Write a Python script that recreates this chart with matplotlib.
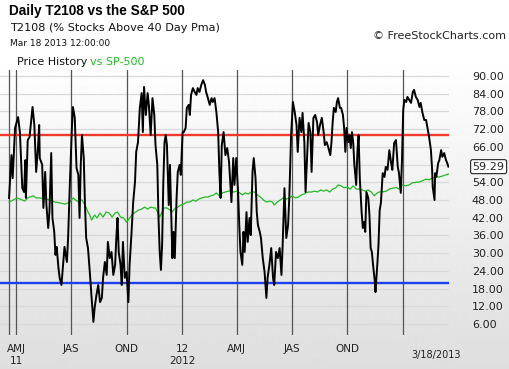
import numpy as np
import matplotlib
matplotlib.use("Agg")
import matplotlib.pyplot as plt
import matplotlib.transforms as mtransforms

# --- data ----------------------------------------------------------------
start_date = np.datetime64("2011-03-20")
end_date = np.datetime64("2013-03-18")

# T2108: days since start_date, value
t2108_days = [0, 4, 6, 10, 15, 18, 22, 25, 27, 28, 31, 34, 36, 39, 42, 45, 48, 50, 51, 55,
              57, 60, 62, 65, 67, 70, 72, 75, 77, 79, 82, 84, 87, 90, 92, 96, 98, 101, 104, 106,
              109, 112, 115, 117, 119, 121, 124, 126, 128, 131, 134, 137, 140, 142, 145, 148, 151, 154, 156, 159,
              162, 164, 167, 170, 173, 176, 178, 180, 182, 185, 187, 189, 192, 195, 198, 200, 203, 206, 209, 211,
              214, 217, 220, 222, 224, 227, 230, 232, 235, 238, 241, 243, 246, 248, 250, 252, 254, 256, 258, 260,
              262, 265, 267, 269, 271, 273, 275, 278, 280, 283, 285, 288, 290, 293, 295, 298, 300, 302, 305, 308,
              311, 313, 316, 319, 322, 325, 327, 330, 333, 336, 338, 341, 344, 347, 349, 351, 353, 356, 359, 362,
              365, 369, 372, 374, 377, 380, 382, 384, 387, 389, 391, 394, 396, 399, 401, 404, 406, 409, 411, 413,
              416, 418, 421, 424, 427, 429, 432, 435, 438, 440, 443, 446, 449, 452, 454, 457, 460, 463, 465, 468,
              471, 474, 477, 479, 482, 485, 487, 490, 492, 495, 497, 500, 502, 505, 508, 511, 513, 516, 519, 522,
              524, 527, 530, 533, 535, 537, 539, 542, 544, 546, 549, 551, 554, 556, 558, 560, 563, 565, 567, 569,
              571, 573, 576, 578, 580, 582, 585, 587, 589, 591, 593, 596, 598, 600, 602, 604, 607, 608, 611, 613,
              615, 617, 620, 623, 625, 628, 631, 634, 636, 639, 642, 645, 647, 650, 652, 654, 656, 659, 661, 664,
              667, 670, 672, 675, 678, 681, 683, 686, 689, 692, 694, 697, 700, 702, 703, 706, 707, 709, 712, 714,
              717, 719, 722, 725, 727, 729]
t2108_vals = [48.7, 63.2, 55.4, 72.4, 76.1, 71.0, 52.0, 50.7, 61.5, 48.7, 68.3, 69.3, 73.4, 79.5, 73.4, 57.5, 65.6, 73.4, 62.2, 59.9,
              45.3, 57.5, 46.3, 38.5, 43.9, 63.9, 41.9, 37.2, 29.4, 32.1, 25.0, 21.6, 19.2, 27.0, 32.1, 27.0, 35.1, 54.1, 71.0, 79.5,
              76.0, 58.8, 56.5, 41.9, 59.9, 70.0, 62.2, 46.3, 35.1, 31.7, 23.6, 14.8, 6.7, 11.4, 15.8, 19.2, 13.4, 14.8, 21.6, 27.0,
              22.6, 33.8, 28.3, 30.4, 22.6, 26.0, 35.1, 41.9, 30.4, 26.0, 19.2, 33.8, 21.6, 23.6, 13.4, 26.0, 36.1, 47.3, 54.1, 64.3,
              67.6, 79.2, 84.2, 71.0, 86.3, 76.8, 84.2, 80.2, 70.0, 82.5, 76.8, 66.6, 59.9, 41.9, 30.4, 24.3, 32.8, 54.1, 67.6, 70.0,
              66.6, 46.3, 59.9, 43.9, 28.3, 37.2, 28.3, 48.7, 57.5, 59.9, 56.5, 71.0, 71.0, 72.4, 79.2, 80.2, 76.8, 83.6, 85.9, 84.6,
              83.6, 85.9, 84.6, 87.0, 88.6, 87.0, 84.6, 82.5, 80.2, 82.5, 81.2, 82.5, 77.8, 71.0, 57.5, 48.7, 66.6, 71.0, 63.2, 65.6,
              61.0, 47.3, 62.2, 53.1, 62.2, 50.7, 39.5, 30.4, 26.0, 37.2, 30.4, 43.9, 33.8, 41.9, 36.1, 57.5, 62.2, 55.4, 43.9, 39.5,
              37.2, 35.1, 28.3, 23.6, 14.8, 21.6, 26.0, 31.7, 21.6, 19.2, 30.4, 28.3, 31.7, 22.6, 32.8, 52.0, 35.1, 39.5, 48.7, 70.0,
              81.2, 77.8, 73.4, 64.3, 75.8, 71.0, 77.5, 67.6, 50.7, 64.3, 74.1, 71.0, 57.5, 75.8, 76.8, 74.4, 70.0, 73.4, 75.8, 71.0,
              66.6, 67.6, 65.6, 63.2, 67.6, 74.4, 79.2, 77.8, 81.2, 82.5, 79.2, 79.2, 76.8, 72.4, 64.3, 72.4, 67.6, 70.0, 65.6, 71.0,
              67.6, 59.9, 53.1, 64.3, 70.0, 55.4, 43.9, 38.5, 40.5, 37.2, 50.7, 48.7, 42.9, 31.7, 30.4, 26.0, 20.2, 16.8, 26.0, 32.8,
              44.6, 47.0, 57.1, 55.8, 59.2, 58.2, 64.9, 60.5, 58.2, 67.3, 68.3, 59.2, 57.1, 50.4, 61.5, 78.5, 81.9, 81.2, 82.9, 81.9,
              80.9, 84.6, 85.3, 82.9, 81.9, 79.5, 80.9, 77.5, 75.1, 75.1, 72.7, 69.3, 64.9, 58.2, 52.4, 48.0, 57.1, 55.8, 60.5, 61.5,
              64.9, 62.6, 63.9, 61.5, 60.5, 59.29]

# SP-500 overlay, shown on the same scale as drawn in the chart
spx_days = [0, 7, 13, 22, 26, 31, 40, 45, 51, 60, 68, 76, 84, 93, 101, 106, 113, 121, 126, 131,
            134, 137, 142, 146, 151, 156, 161, 166, 171, 176, 180, 185, 190, 195, 200, 205, 210, 215, 220, 225,
            230, 235, 240, 243, 247, 250, 253, 257, 262, 267, 270, 275, 280, 285, 290, 295, 300, 305, 310, 315,
            320, 325, 330, 335, 340, 344, 349, 354, 359, 364, 367, 373, 378, 383, 387, 392, 397, 402, 407, 412,
            417, 422, 427, 432, 437, 440, 445, 450, 455, 460, 465, 470, 475, 480, 485, 490, 492, 497, 502, 507,
            512, 517, 522, 527, 532, 537, 542, 546, 551, 556, 561, 566, 571, 576, 581, 586, 591, 596, 601, 606,
            611, 614, 619, 626, 631, 636, 643, 647, 652, 659, 664, 669, 676, 681, 686, 692, 697, 702, 709, 714,
            719, 725, 729]
spx_vals = [47.3, 48.0, 48.7, 48.0, 47.6, 48.7, 49.4, 48.7, 48.7, 48.3, 48.0, 47.3, 47.0, 46.6, 47.3, 48.7, 47.6, 48.0, 46.3, 43.9,
            42.9, 41.2, 42.9, 41.9, 43.6, 42.2, 43.9, 43.6, 42.2, 43.6, 43.9, 42.2, 41.9, 40.5, 41.9, 43.2, 43.9, 44.6, 44.9, 45.6,
            44.9, 45.6, 45.3, 45.3, 43.6, 42.2, 43.6, 45.3, 45.3, 44.6, 43.9, 45.0, 45.6, 46.3, 46.6, 47.3, 47.3, 48.0, 47.6, 48.3,
            48.7, 49.0, 49.0, 49.4, 49.7, 50.4, 49.4, 50.4, 50.7, 51.0, 51.0, 50.7, 51.0, 50.4, 49.7, 50.4, 50.0, 50.7, 50.7, 49.7,
            49.0, 48.0, 47.3, 47.6, 47.3, 46.3, 47.3, 48.0, 48.7, 48.3, 48.7, 49.4, 48.7, 49.0, 49.7, 50.0, 50.4, 50.7, 50.7, 51.0,
            50.7, 51.4, 51.0, 51.4, 50.7, 51.7, 52.1, 53.1, 52.8, 52.1, 52.4, 51.7, 52.8, 51.7, 51.7, 51.4, 51.0, 51.4, 50.7, 49.4,
            50.4, 50.7, 50.7, 51.0, 51.7, 52.0, 52.2, 51.7, 53.1, 52.8, 53.1, 53.8, 54.0, 54.1, 54.5, 55.1, 54.8, 55.4, 55.8, 55.8,
            56.1, 56.5, 56.8]

upper_level = 70
lower_level = 20
y_ticks = [6, 12, 18, 24, 30, 36, 42, 48, 54, 66, 72, 78, 84, 90]
quarter_starts = ["2011-04-01", "2011-07-01", "2011-10-01", "2012-01-01",
                  "2012-04-01", "2012-07-01", "2012-10-01", "2013-01-01"]
quarter_labels = ["AMJ\n11", "JAS", "OND", "12\n2012", "AMJ", "JAS", "OND", ""]

# --- figure -------------------------------------------------------------
W, H = 509, 369
fig = plt.figure(figsize=(W / 100, H / 100), dpi=100)
fig.patch.set_facecolor("white")

# soft vertical gradient behind everything
bg = fig.add_axes([0, 0, 1, 1], zorder=-10)
bg.axis("off")
rows = np.arange(H)
shade = np.where(rows < 58, 1.0, 1.0 - 0.13 * (rows - 58) / (H - 58))
bg.imshow(shade[:, None], cmap="gray", vmin=0, vmax=1, aspect="auto",
          extent=[0, 1, 0, 1], interpolation="bilinear")

ax = fig.add_axes([0, 1 - 335 / H, 449 / W, (335 - 70) / H])
ax.patch.set_alpha(0)
for s in ax.spines.values():
    s.set_visible(False)

t_dates = start_date + np.array(t2108_days).astype("timedelta64[D]")
s_dates = start_date + np.array(spx_days).astype("timedelta64[D]")

for v in y_ticks + [60]:
    ax.axhline(v, color="#d9d9d9", lw=0.9, zorder=1)
for q in [start_date] + [np.datetime64(d) for d in quarter_starts]:
    ax.axvline(q, color="#555555", lw=0.9, zorder=2)

ax.axhline(upper_level, color="#f23a2c", lw=1.7, zorder=3)
ax.axhline(lower_level, color="#1e3ff0", lw=1.7, zorder=3)
ax.plot(s_dates, spx_vals, color="#22bb22", lw=0.9, zorder=4)
ax.plot(t_dates, t2108_vals, color="black", lw=1.4, zorder=5)

ax.set_xlim(start_date - np.timedelta64(15, "D"), end_date + np.timedelta64(1, "D"))
ax.set_ylim(2.26, 92.03)

ax.yaxis.tick_right()
ax.set_yticks(y_ticks)
ax.set_yticklabels([f"{v:.2f}" for v in y_ticks], fontsize=8, color="#222222")
ax.tick_params(axis="y", length=0, pad=16.5)
ax.set_xticks([np.datetime64(d) for d in quarter_starts])
ax.set_xticklabels(quarter_labels, fontsize=7.5, color="#222222", linespacing=1.3)
ax.tick_params(axis="x", length=0, pad=6.5)

# last-value box
trans = mtransforms.blended_transform_factory(ax.transAxes, ax.transData)
ax.annotate(f"{t2108_vals[-1]:.2f}", xy=(1, t2108_vals[-1]), xycoords=trans,
            xytext=(17, 0), textcoords="offset points", va="center", ha="left",
            fontsize=8, color="#222222",
            bbox=dict(boxstyle="round,pad=0.18", fc="white", ec="#222222", lw=0.8))

fig.text(436 / W, 1 - 355 / H, "3/18/2013", fontsize=7, color="#222222",
         ha="center", va="center")

# header text
fig.text(9 / W, 1 - 11 / H, "Daily T2108 vs the S&P 500", fontsize=9.8,
         fontweight="bold", family="Liberation Sans", color="black", va="center")
fig.text(10 / W, 1 - 28 / H, "T2108 (% Stocks Above 40 Day Pma)", fontsize=8.1,
         color="#111111", va="center")
fig.text(10 / W, 1 - 44 / H, "Mar 18 2013 12:00:00", fontsize=6.5,
         color="#111111", va="center")
t1 = fig.text(17 / W, 1 - 62 / H, "Price History", fontsize=8, color="#111111", va="center")
fig.canvas.draw()
bb = t1.get_window_extent()
fig.text(bb.x1 / W + 3 / W, 1 - 62 / H, "vs SP-500", fontsize=8, color="#22bb22", va="center")
fig.text(506 / W, 1 - 36 / H, "\u00a9 FreeStockCharts.com", fontsize=8, color="#222222",
         ha="right", va="center")

fig.savefig("out.png", dpi=100)
